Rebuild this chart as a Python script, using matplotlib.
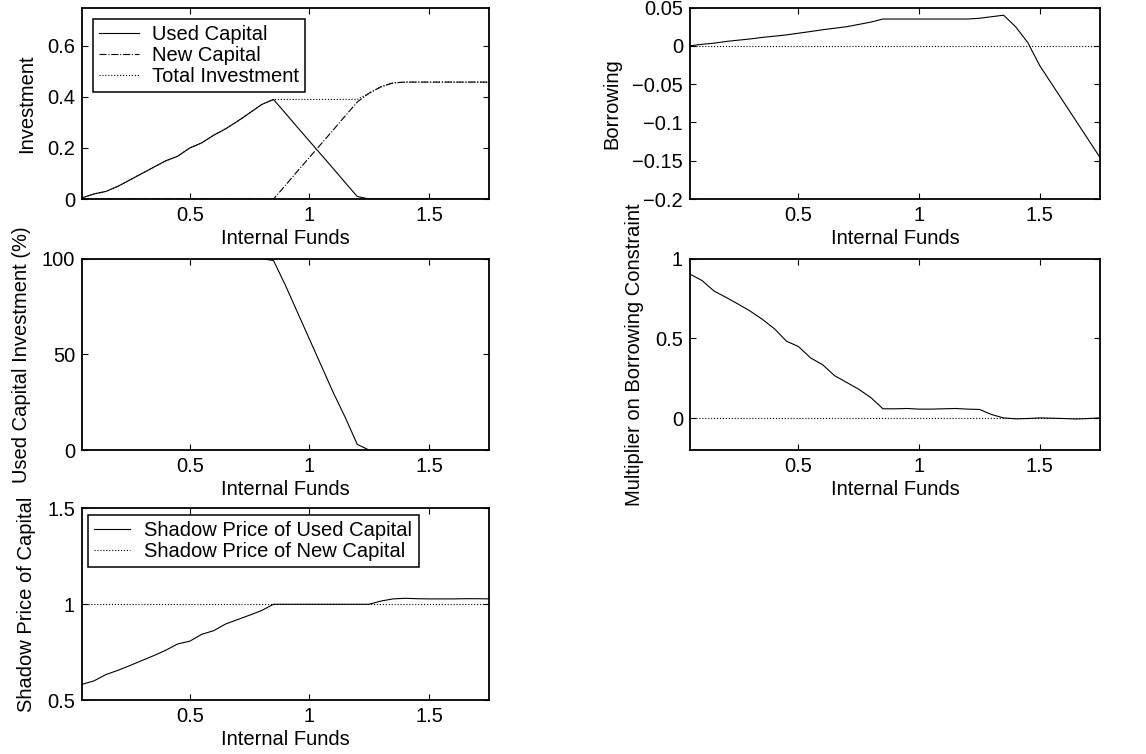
import matplotlib
matplotlib.use("Agg")
import matplotlib.pyplot as plt
from matplotlib.ticker import FuncFormatter

plt.rcParams['font.family'] = ['Liberation Sans', 'DejaVu Sans']
plt.rcParams['font.size'] = 14.5

# internal funds grid (0.05 .. 1.75)
funds = [0.05, 0.10, 0.15, 0.20, 0.25, 0.30, 0.35, 0.40, 0.45, 0.50,
         0.55, 0.60, 0.65, 0.70, 0.75, 0.80, 0.85, 0.90, 0.95, 1.00,
         1.05, 1.10, 1.15, 1.20, 1.25, 1.30, 1.35, 1.40, 1.45, 1.50,
         1.55, 1.60, 1.65, 1.70, 1.75]

used_capital = [0.005, 0.02, 0.03, 0.05, 0.075, 0.10, 0.125, 0.15, 0.168, 0.20,
                0.22, 0.25, 0.275, 0.305, 0.337, 0.37, 0.39, 0.336, 0.281, 0.227,
                0.173, 0.119, 0.064, 0.01, 0.0, 0.0, 0.0, 0.0, 0.0, 0.0,
                0.0, 0.0, 0.0, 0.0, 0.0]
new_capital = [0.0, 0.0, 0.0, 0.0, 0.0, 0.0, 0.0, 0.0, 0.0, 0.0,
               0.0, 0.0, 0.0, 0.0, 0.0, 0.0, 0.0, 0.054, 0.109, 0.163,
               0.217, 0.271, 0.326, 0.38, 0.415, 0.44, 0.455, 0.458, 0.458, 0.458,
               0.458, 0.458, 0.458, 0.458, 0.458]
total_investment = [0.005, 0.02, 0.03, 0.05, 0.075, 0.10, 0.125, 0.15, 0.168, 0.20,
                    0.22, 0.25, 0.275, 0.305, 0.337, 0.37, 0.39, 0.39, 0.39, 0.39,
                    0.39, 0.39, 0.39, 0.39, 0.415, 0.44, 0.455, 0.458, 0.458, 0.458,
                    0.458, 0.458, 0.458, 0.458, 0.458]

borrowing = [0.0, 0.002, 0.0035, 0.0057, 0.0074, 0.009, 0.011, 0.0126, 0.0143, 0.0165,
             0.0187, 0.021, 0.023, 0.025, 0.028, 0.031, 0.035, 0.035, 0.035, 0.035,
             0.035, 0.035, 0.035, 0.035, 0.036, 0.038, 0.040, 0.0248, 0.0043, -0.026,
             -0.050, -0.074, -0.098, -0.122, -0.146]

used_share = [100, 100, 100, 100, 100, 100, 100, 100, 100, 100,
              100, 100, 100, 100, 100, 100, 99, 86, 72, 58,
              44, 30, 17, 3, 0, 0, 0, 0, 0, 0,
              0, 0, 0, 0, 0]

multiplier = [0.903, 0.863, 0.797, 0.757, 0.715, 0.671, 0.62, 0.561, 0.483, 0.449,
              0.378, 0.335, 0.266, 0.224, 0.181, 0.129, 0.059, 0.059, 0.061, 0.057,
              0.057, 0.059, 0.061, 0.057, 0.055, 0.023, 0.002, -0.004, -0.002, 0.002,
              0.0, -0.002, -0.005, -0.002, 0.002]

shadow_used = [0.582, 0.60, 0.633, 0.655, 0.68, 0.706, 0.732, 0.76, 0.793, 0.807,
               0.843, 0.862, 0.897, 0.92, 0.943, 0.967, 1.0, 1.0, 1.0, 1.0,
               1.0, 1.0, 1.0, 1.0, 1.0, 1.017, 1.028, 1.031, 1.029, 1.028,
               1.028, 1.028, 1.029, 1.029, 1.028]
shadow_new = [1.0] * len(funds)

zero_line = [0.0] * len(funds)

xticks = [0.5, 1, 1.5]


def fmt(v, pos):
    # matlab style tick text: 0, 0.5, 1 ...
    return ('%g' % v).replace('-', '\u2212')


def style(ax, ylim, yticks, ylabel):
    ax.set_xlim(0.05, 1.75)
    ax.set_ylim(*ylim)
    ax.set_xticks(xticks)
    ax.set_yticks(yticks)
    ax.xaxis.set_major_formatter(FuncFormatter(fmt))
    ax.yaxis.set_major_formatter(FuncFormatter(fmt))
    ax.tick_params(direction='in', top=True, right=True, length=4, width=0.8, pad=5)
    ax.set_xlabel('Internal Funds', labelpad=3)
    ax.set_ylabel(ylabel, labelpad=8)
    for s in ax.spines.values():
        s.set_linewidth(1.3)


def box_legend(ax, pad, hl, tp):
    leg = ax.legend(loc='upper left', fancybox=False, edgecolor='k', framealpha=1,
                    borderpad=0.3, labelspacing=0.1, handlelength=hl,
                    handletextpad=tp, borderaxespad=pad)
    leg.get_frame().set_linewidth(1.1)
    return leg


fig = plt.figure(figsize=(11.46, 7.54), dpi=100)
lw = 0.8

left_x, left_w = 0.0716, 0.355
right_x, right_w = 0.602, 0.358
h = 0.254

# Investment
ax1 = fig.add_axes([left_x, 0.736, left_w, h])
ax1.plot(funds, used_capital, 'k-', lw=lw, zorder=1, label='Used Capital')
ax1.plot(funds, new_capital, 'k-.', lw=lw, zorder=1, label='New Capital')
ax1.plot(funds, total_investment, 'k:', lw=lw, zorder=1, label='Total Investment')
style(ax1, (0, 0.75), [0, 0.2, 0.4, 0.6], 'Investment')
box_legend(ax1, 0.55, 2.0, 0.6)

# Borrowing
ax2 = fig.add_axes([right_x, 0.736, right_w, h])
ax2.plot(funds, borrowing, 'k-', lw=lw)
ax2.plot(funds, zero_line, 'k:', lw=lw)
style(ax2, (-0.2, 0.05), [-0.2, -0.15, -0.1, -0.05, 0, 0.05], 'Borrowing')

# Used capital share
ax3 = fig.add_axes([left_x, 0.403, left_w, h])
ax3.plot(funds, used_share, 'k-', lw=lw, zorder=1)
style(ax3, (0, 100), [0, 50, 100], 'Used Capital Investment (%)')

# Multiplier
ax4 = fig.add_axes([right_x, 0.403, right_w, h])
ax4.plot(funds, multiplier, 'k-', lw=lw)
ax4.plot(funds, zero_line, 'k:', lw=lw)
style(ax4, (-0.2, 1), [0, 0.5, 1], 'Multiplier on Borrowing Constraint')

# Shadow prices
ax5 = fig.add_axes([left_x, 0.0716, left_w, h])
ax5.plot(funds, shadow_used, 'k-', lw=lw, label='Shadow Price of Used Capital')
ax5.plot(funds, shadow_new, 'k:', lw=lw, label='Shadow Price of New Capital')
style(ax5, (0.5, 1.5), [0.5, 1, 1.5], 'Shadow Price of Capital')
box_legend(ax5, 0.3, 1.8, 0.7)

fig.savefig('out.png', dpi=100)
